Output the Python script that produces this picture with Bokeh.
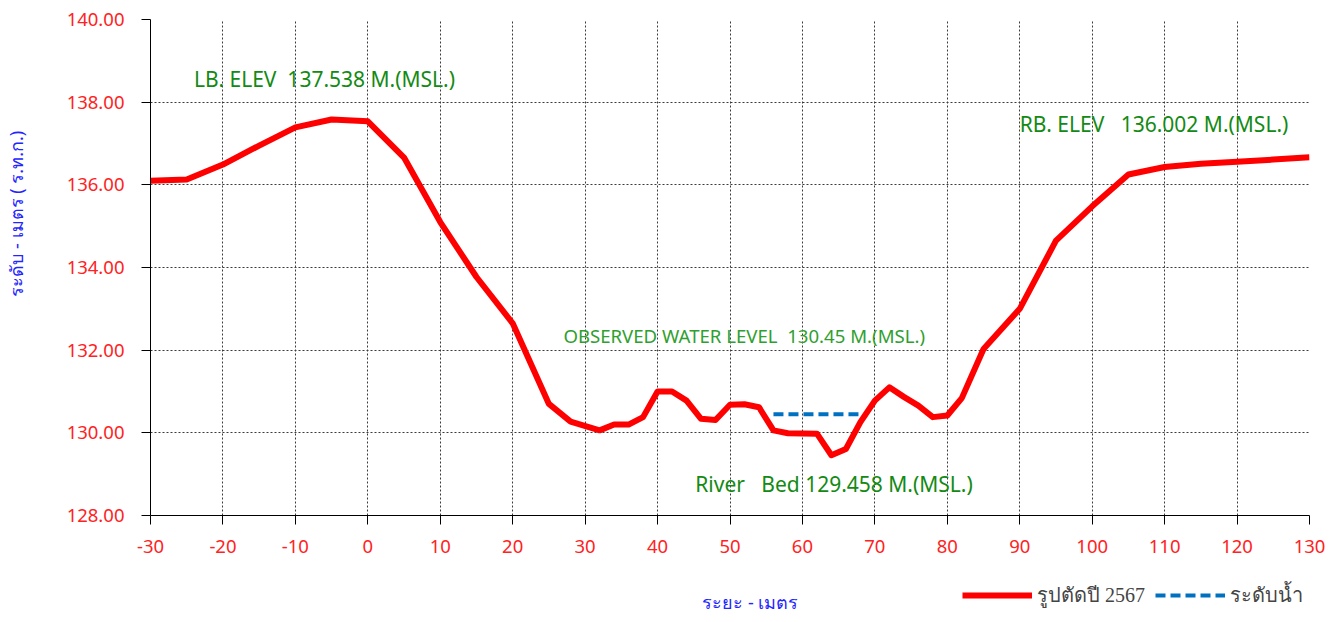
from bokeh.plotting import figure
from bokeh.models import (Range1d, FixedTicker, CustomJSTickFormatter, Label, Legend,
                          LegendItem)
from bokeh.layouts import column
from bokeh.embed import file_html
from bokeh.resources import INLINE

# ---- data ----
dist = [-30, -25, -20, -15, -10, -5, 0, 5, 10, 15, 20, 25, 28, 32, 34, 36, 38,
        40, 42, 44, 46, 48, 50, 52, 54, 56, 58, 62, 64, 66, 68,
        70, 72, 74, 76, 78, 80, 82, 85, 90, 95, 100, 105, 110, 115, 120, 125, 130]
elev = [136.10, 136.13, 136.49, 136.95, 137.39, 137.58, 137.538, 136.66, 135.10, 133.77,
        132.65, 130.70, 130.27, 130.06, 130.20, 130.20, 130.38,
        131.00, 131.00, 130.78, 130.34, 130.31, 130.68, 130.69, 130.62, 130.06, 129.99,
        129.98, 129.458, 129.61, 130.26,
        130.78, 131.10, 130.87, 130.66, 130.38, 130.42, 130.84, 132.03, 133.00, 134.65,
        135.48, 136.25, 136.43, 136.51, 136.56, 136.61, 136.67]
wl_x = [56, 68]
wl_y = [130.45, 130.45]

x_ticks = [-30, -20, -10, 0, 10, 20, 30, 40, 50, 60, 70, 80, 90, 100, 110, 120, 130]
y_ticks = [128, 130, 132, 134, 136, 138, 140]

NB = "\u00a0"
legend_section = "รูปตัดปี 2567"
legend_water = "ระดับน้ำ"
x_label = "ระยะ - เมตร"
y_label = "ระดับ - เมตร ( ร.ท.ก.)"
lb_text = "LB. ELEV" + NB + " 137.538 M.(MSL.)"
rb_text = "RB. ELEV" + NB + NB + " 136.002 M.(MSL.)"
wl_text = "OBSERVED WATER LEVEL" + NB + " 130.45 M.(MSL.)"
bed_text = "River" + NB + NB + " Bed 129.458 M.(MSL.)"

FONT = "Noto Sans"
W = 1327
H1 = 576
H2 = 38

p = figure(width=W, height=H1, output_backend="svg", toolbar_location=None,
           x_range=Range1d(-30, 130), y_range=Range1d(128, 140),
           min_border_left=150, min_border_right=W - 1309, min_border_top=19,
           min_border_bottom=H1 - 515)
p.outline_line_color = None

p.xaxis.ticker = FixedTicker(ticks=x_ticks)
p.yaxis.ticker = FixedTicker(ticks=y_ticks)
p.xaxis.formatter = CustomJSTickFormatter(code="return tick.toFixed(0);")
p.yaxis.formatter = CustomJSTickFormatter(code="return tick.toFixed(2);")

for ax in (p.xaxis[0], p.yaxis[0]):
    ax.axis_line_color = "black"
    ax.axis_line_width = 1
    ax.major_tick_line_color = "black"
    ax.major_tick_out = 9
    ax.major_tick_in = 0
    ax.minor_tick_out = 0
    ax.minor_tick_in = 0
    ax.major_label_text_color = "#ff2222"
    ax.major_label_text_font = FONT
    ax.major_label_text_font_size = "18.5px"
p.yaxis.major_label_standoff = 17
p.xaxis.major_label_standoff = 15

# y axis title, shifted upward with leading no-break spaces
p.yaxis.axis_label = NB * 23 + y_label
p.yaxis.axis_label_text_color = "#2424ff"
p.yaxis.axis_label_text_font = FONT
p.yaxis.axis_label_text_font_size = "18px"
p.yaxis.axis_label_text_font_style = "normal"
p.yaxis.axis_label_standoff = 36

p.grid.grid_line_color = "#3a3a3a"
p.grid.grid_line_dash = "2 2"
p.grid.grid_line_width = 1

p.line(dist, elev, line_color="#ff0000", line_width=6, line_join="round")
p.line(wl_x, wl_y, line_color="#0070c0", line_width=4, line_dash="10 5")

def lab(fig, x, y, text, color, size, align="left"):
    fig.add_layout(Label(x=x, y=y, text=text, text_color=color, text_font=FONT,
                         text_font_size=size, text_align=align, text_baseline="middle"))

lab(p, -24.0, 138.55, lb_text, "#138a13", "21px")
lab(p, 90.0, 137.46, rb_text, "#138a13", "21px")
lab(p, 27.0, 132.35, wl_text, "#2fa02f", "18.6px")
lab(p, 45.2, 128.77, bed_text, "#138a13", "21px")

# ---- strip below the chart: x title and legend (frame aligned with the chart) ----
p2 = figure(width=W, height=H2, output_backend="svg", toolbar_location=None,
            x_range=p.x_range, y_range=Range1d(0, H2),
            x_axis_location=None, y_axis_location=None, min_border=0)
p2.outline_line_color = None
p2.grid.visible = False

# same series, lying far outside this strip's view; used only for the legend swatches
r_sec = p2.line(dist, elev, line_color="#ff0000", line_width=6)
r_wl = p2.line(wl_x, wl_y, line_color="#0070c0", line_width=4, line_dash="10 5")

lab(p2, 52.8, 13, x_label, "#2424ff", "18px", align="center")

legend = Legend(items=[LegendItem(label=legend_section, renderers=[r_sec]),
                       LegendItem(label=legend_water, renderers=[r_wl])],
                orientation="horizontal", location=(962 - 150, 3),
                glyph_width=70, glyph_height=20, label_height=20,
                label_text_font="Liberation Serif", label_text_font_size="20px",
                label_standoff=5, spacing=10, padding=0, margin=0,
                border_line_color=None, background_fill_alpha=0)
p2.add_layout(legend, "center")

layout = column(p, p2, spacing=0)
open("out.html", "w").write(file_html(layout, INLINE))
